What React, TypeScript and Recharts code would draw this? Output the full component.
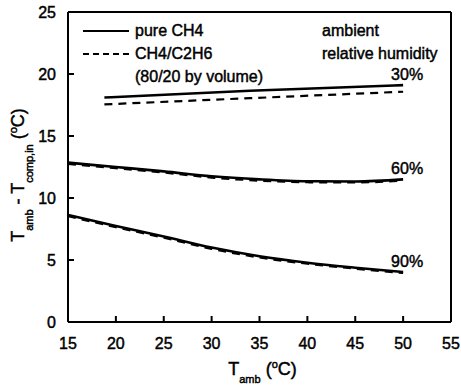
import { LineChart, Line, XAxis, YAxis, LabelList } from 'recharts';

// ambient temperature (°C) of the sampled points
const tAmb30 = [18.8, 34, 50];
const tAmb = [15, 20, 25, 30, 35, 40, 45, 50];

// T_amb - T_comp,in (°C)
const pure30 = [18.1, 18.65, 19.1];
const mix30 = [17.55, 18.05, 18.57];
const pure60 = [12.85, 12.5, 12.15, 11.75, 11.5, 11.35, 11.33, 11.5];
const mix60 = [12.75, 12.4, 12.05, 11.65, 11.4, 11.27, 11.25, 11.42];
const pure90 = [8.63, 7.75, 6.9, 6.0, 5.3, 4.78, 4.38, 4.03];
const mix90 = [8.53, 7.65, 6.8, 5.9, 5.2, 4.7, 4.3, 3.95];

const xTicks = [15, 20, 25, 30, 35, 40, 45, 50, 55];
const yTicks = [0, 5, 10, 15, 20, 25];
const innerXTicks = [20, 25, 30, 35, 40, 45, 50];
const innerYTicks = [5, 10, 15, 20];

const humidityLabels = ['30%', '60%', '90%'];
const seriesNames = ['pure CH4', 'CH4/C2H6'];
const seriesNote = '(80/20 by volume)';
const humidityTitle = ['ambient', 'relative humidity'];

const FONT = '"Liberation Sans", Arial, sans-serif';
const DASH = '8 6';
// the scanned original has heavy type, a thin outline thickens it a little
const HEAVY = { stroke: '#000', strokeWidth: 0.45 };

const toPoints = (xs: number[], ys: number[]) => xs.map((x, i) => ({ x, y: ys[i] }));

const curves = [
  { key: 'p30', data: toPoints(tAmb30, pure30), dashed: false, label: humidityLabels[0] },
  { key: 'm30', data: toPoints(tAmb30, mix30), dashed: true },
  { key: 'p60', data: toPoints(tAmb, pure60), dashed: false, label: humidityLabels[1] },
  { key: 'm60', data: toPoints(tAmb, mix60), dashed: true },
  { key: 'p90', data: toPoints(tAmb, pure90), dashed: false, label: humidityLabels[2] },
  { key: 'm90', data: toPoints(tAmb, mix90), dashed: true },
];

const axisLine = { stroke: '#000', strokeWidth: 2 };
const tickStyle = { fill: '#000', fontSize: 16, fontFamily: FONT, ...HEAVY };

const YLabel = ({ viewBox }: any) => {
  const cx = viewBox.x + 24;
  const cy = viewBox.y + viewBox.height / 2 + 8;
  return (
    <text transform={`translate(${cx},${cy}) rotate(-90)`} textAnchor="middle" fontSize={18} fontFamily={FONT} fill="#000" {...HEAVY}>
      T<tspan fontSize={11} dy={9}>amb</tspan>
      <tspan dy={-9}> - T</tspan>
      <tspan fontSize={11} dy={9}>comp,in</tspan>
      <tspan dy={-9}> (</tspan>
      <tspan fontSize={11} dy={-7}>o</tspan>
      <tspan dy={7}>C)</tspan>
    </text>
  );
};

const XLabel = ({ viewBox }: any) => {
  const cx = viewBox.x + viewBox.width / 2 + 3;
  const y = viewBox.y + 53;
  return (
    <text x={cx} y={y} textAnchor="middle" fontSize={18} fontFamily={FONT} fill="#000" {...HEAVY}>
      T<tspan fontSize={11} dy={8}>amb</tspan>
      <tspan dy={-8}> (</tspan>
      <tspan fontSize={11} dy={-7}>o</tspan>
      <tspan dy={7}>C)</tspan>
    </text>
  );
};

const endLabel = (text: string, lastIndex: number) => (props: any) => {
  if (props.index !== lastIndex) return null;
  return (
    <text x={props.x + 4} y={props.y - 5} textAnchor="middle" fontSize={16} fontFamily={FONT} fill="#000" {...HEAVY}>
      {text}
    </text>
  );
};

function LegendBox() {
  const row = { height: 23, lineHeight: '23px', display: 'flex', alignItems: 'center' } as const;
  const box = { position: 'absolute', top: 19, fontSize: 16, color: '#000', WebkitTextStroke: '0.45px #000' } as const;
  return (
    <>
      <div style={{ ...box, left: 83 }}>
        {seriesNames.map((name, i) => (
          <div key={name} style={row}>
            <svg width={46} height={6} style={{ marginRight: 6 }}>
              <line x1={0} y1={3} x2={46} y2={3} stroke="#000" strokeWidth={2.2} strokeDasharray={i === 1 ? '6 4' : undefined} />
            </svg>
            <span>{name}</span>
          </div>
        ))}
        <div style={{ ...row, paddingLeft: 52 }}>{seriesNote}</div>
      </div>
      <div style={{ ...box, left: 322 }}>
        {humidityTitle.map((t) => (
          <div key={t} style={row}>{t}</div>
        ))}
      </div>
    </>
  );
}

export default function App() {
  return (
    <div style={{ position: 'absolute', left: 0, top: 0, width: 461, height: 385, background: '#fff', fontFamily: FONT }}>
      <LineChart width={461} height={385} margin={{ top: 0, right: 0, bottom: 0, left: 0 }}>
        <XAxis
          dataKey="x"
          type="number"
          domain={[15, 55]}
          ticks={xTicks}
          height={63}
          tickSize={-6}
          tickMargin={22}
          axisLine={axisLine}
          tickLine={axisLine}
          tick={tickStyle}
          label={{ content: XLabel }}
        />
        <XAxis
          xAxisId="top"
          orientation="top"
          type="number"
          domain={[15, 55]}
          ticks={innerXTicks}
          height={12}
          tickSize={-6}
          axisLine={axisLine}
          tickLine={axisLine}
          tickFormatter={() => ''}
        />
        <YAxis
          type="number"
          domain={[0, 25]}
          ticks={yTicks}
          width={68}
          tickSize={-6}
          tickMargin={18}
          axisLine={axisLine}
          tickLine={axisLine}
          tick={tickStyle}
          label={{ content: YLabel }}
        />
        <YAxis
          yAxisId="right"
          orientation="right"
          type="number"
          domain={[0, 25]}
          ticks={innerYTicks}
          width={10}
          tickSize={-6}
          axisLine={axisLine}
          tickLine={axisLine}
          tickFormatter={() => ''}
        />
        {curves.map((c) => (
          <Line
            key={c.key}
            data={c.data}
            dataKey="y"
            type="monotone"
            stroke="#000"
            strokeWidth={c.dashed ? 2.2 : 2.6}
            strokeDasharray={c.dashed ? DASH : undefined}
            dot={false}
            isAnimationActive={false}
          >
            {c.label && <LabelList dataKey="y" content={endLabel(c.label, c.data.length - 1)} />}
          </Line>
        ))}
      </LineChart>
      <LegendBox />
    </div>
  );
}
